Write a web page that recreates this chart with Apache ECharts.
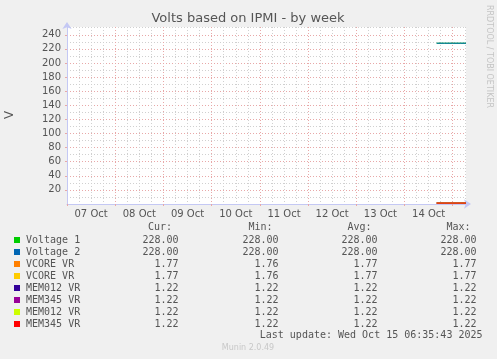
<!DOCTYPE html>
<html>
<head>
<meta charset="utf-8">
<script src="https://cdn.jsdelivr.net/npm/echarts@6/dist/echarts.min.js"></script>
<style>
html,body{margin:0;padding:0;background:#f0f0f0;}
#c{width:497px;height:359px;}
</style>
</head>
<body>
<div id="c"></div>
<script>
// ---- data ----
const dayLabels = ['07 Oct','08 Oct','09 Oct','10 Oct','11 Oct','12 Oct','13 Oct','14 Oct'];
const hoursSinceStart = [184, 188, 192, 196, 198.6]; // hours since 07 Oct 00:00
const xMax = 198.6;
const yMax = 251;
const yTicks = [20,40,60,80,100,120,140,160,180,200,220,240];
const seriesNames = ['Voltage 1','Voltage 2','VCORE VR','VCORE VR','MEM012 VR','MEM345 VR','MEM012 VR','MEM345 VR'];
const seriesColors = ['#00cc00','#0066b3','#ff8000','#ffcc00','#330099','#990099','#ccff00','#ff0000'];
const voltage1 = [228, 228, 228, 228, 228];
const voltage2 = [228, 228, 228, 228, 228];
const vcore1 = [1.77, 1.76, 1.77, 1.77, 1.77];
const vcore2 = [1.77, 1.76, 1.77, 1.77, 1.77];
const mem012a = [1.22, 1.22, 1.22, 1.22, 1.22];
const mem345a = [1.22, 1.22, 1.22, 1.22, 1.22];
const mem012b = [1.22, 1.22, 1.22, 1.22, 1.22];
const mem345b = [1.22, 1.22, 1.22, 1.22, 1.22];
const seriesValues = [voltage1, voltage2, vcore1, vcore2, mem012a, mem345a, mem012b, mem345b];
const curVals = ['228.00','228.00','1.77','1.77','1.22','1.22','1.22','1.22'];
const minVals = ['228.00','228.00','1.76','1.76','1.22','1.22','1.22','1.22'];
const avgVals = ['228.00','228.00','1.77','1.77','1.22','1.22','1.22','1.22'];
const maxVals = ['228.00','228.00','1.77','1.77','1.22','1.22','1.22','1.22'];
const lastUpdate = 'Last update: Wed Oct 15 06:35:43 2025';

// ---- chart ----
const chart = echarts.init(document.getElementById('c'), null, {renderer:'canvas'});
const MINOR = '#d0d0d0', MAJOR = '#e8a8a8', AXIS = '#c4c8f4', TXT = '#555555';
const mono = '"DejaVu Sans Mono", monospace';

const grid = {left: 67, top: 27, width: 399, height: 177, show: true, backgroundColor: '#ffffff', borderWidth: 0};

const xAxes = [
  { // minor grid every 6h
    type: 'value', min: 0, max: xMax, interval: 6, gridIndex: 0, position: 'bottom', offset: 0,
    axisLine: {show: false}, axisTick: {show: false}, axisLabel: {show: false},
    splitLine: {show: true, showMinLine: false, showMaxLine: false, lineStyle: {color: MINOR, type: [1, 2], width: 1}}
  },
  { // major grid every day
    type: 'value', min: 0, max: xMax, interval: 24, gridIndex: 0, position: 'bottom', offset: 0,
    axisLine: {show: true, lineStyle: {color: AXIS, width: 1}, symbol: ['none', 'arrow'], symbolSize: [7, 7], symbolOffset: [0, 5]},
    axisTick: {show: true, length: 2, lineStyle: {color: MAJOR}},
    axisLabel: {show: false},
    splitLine: {show: true, showMinLine: true, showMaxLine: false, lineStyle: {color: MAJOR, type: [1, 2], width: 1}}
  },
  { // day labels at noon
    type: 'value', min: 0, max: xMax, interval: 12, gridIndex: 0, position: 'bottom', offset: 0,
    axisLine: {show: false}, axisTick: {show: false}, splitLine: {show: false},
    axisLabel: {show: true, color: TXT, fontSize: 10, fontFamily: 'DejaVu Sans', margin: 5, showMaxLabel: false, showMinLabel: false,
      formatter: function (v) { const h = Math.round(v); if (h % 24 === 12) { return dayLabels[(h - 12) / 24] || ''; } return ''; }
    }
  }
];

const yAxes = [
  {
    type: 'value', min: 0, max: yMax, interval: 10, gridIndex: 0, position: 'left', offset: 0,
    axisLine: {show: false}, axisTick: {show: false}, axisLabel: {show: false},
    splitLine: {show: true, showMinLine: false, showMaxLine: false, lineStyle: {color: MINOR, type: [1, 2], width: 1}}
  },
  {
    type: 'value', min: 0, max: yMax, interval: 20, gridIndex: 0, position: 'left', offset: 0,
    axisLine: {show: true, lineStyle: {color: AXIS, width: 1}, symbol: ['none', 'arrow'], symbolSize: [7, 7], symbolOffset: [0, 5]},
    axisTick: {show: true, length: 2, lineStyle: {color: MAJOR}},
    axisLabel: {show: true, color: TXT, fontSize: 10, fontFamily: 'DejaVu Sans', margin: 6, showMaxLabel: false, showMinLabel: false,
      formatter: function (v) { return yTicks.indexOf(v) >= 0 ? String(v) : ''; }
    },
    splitLine: {show: true, showMinLine: false, showMaxLine: false, lineStyle: {color: MAJOR, type: [1, 2], width: 1}}
  }
];

const series = seriesNames.map(function (name, i) {
  return {
    name: name, type: 'line', xAxisIndex: 1, yAxisIndex: 1,
    data: hoursSinceStart.map(function (t, k) { return [t, seriesValues[i][k]]; }),
    showSymbol: false, symbol: 'none', silent: true, animation: false,
    lineStyle: {color: seriesColors[i], width: 1}, itemStyle: {color: seriesColors[i]}, z: 10 + i
  };
});

// legend table
const graphics = [];
const rowY0 = 240, rowH = 12;
graphics.push({type: 'text', style: {text: 'Volts based on IPMI - by week', x: 248, y: 19, textAlign: 'center', textVerticalAlign: 'middle', fill: TXT, font: '13px "DejaVu Sans"'}});
graphics.push({type: 'text', style: {text: 'V', x: 0, y: 0, textAlign: 'center', textVerticalAlign: 'middle', fill: TXT, font: '12px "DejaVu Sans"'}, x: 10, y: 115, rotation: Math.PI / 2});
graphics.push({type: 'text', style: {text: 'RRDTOOL / TOBI OETIKER', x: 0, y: 0, textAlign: 'left', textVerticalAlign: 'middle', fill: '#c4c4c4', font: '8px "DejaVu Sans"'}, x: 489, y: 5, rotation: -Math.PI / 2});
const headers = [['Cur:', 172], ['Min:', 272.5], ['Avg:', 371.5], ['Max:', 470.5]];
headers.forEach(function (h) {
  graphics.push({type: 'text', style: {text: h[0], x: h[1], y: 227.5, textAlign: 'right', textVerticalAlign: 'middle', fill: TXT, font: '10px ' + mono}});
});
const colEnds = [178.5, 278.5, 377.5, 476.5];
const cols = [curVals, minVals, avgVals, maxVals];
seriesNames.forEach(function (name, i) {
  const y = rowY0 + i * rowH;
  graphics.push({type: 'rect', shape: {x: 14, y: y - 3, width: 6, height: 6}, style: {fill: seriesColors[i]}});
  graphics.push({type: 'text', style: {text: name, x: 26, y: y, textAlign: 'left', textVerticalAlign: 'middle', fill: TXT, font: '10px ' + mono}});
  cols.forEach(function (c, j) {
    graphics.push({type: 'text', style: {text: c[i], x: colEnds[j], y: y, textAlign: 'right', textVerticalAlign: 'middle', fill: TXT, font: '10px ' + mono}});
  });
});
graphics.push({type: 'text', style: {text: lastUpdate, x: 482.5, y: 335.5, textAlign: 'right', textVerticalAlign: 'middle', fill: TXT, font: '10px ' + mono}});
graphics.push({type: 'text', style: {text: 'Munin 2.0.49', x: 248, y: 348, textAlign: 'center', textVerticalAlign: 'middle', fill: '#c8c8c8', font: '8px "DejaVu Sans"'}});

chart.setOption({
  backgroundColor: '#f0f0f0',
  animation: false,
  grid: grid,
  xAxis: xAxes,
  yAxis: yAxes,
  series: series,
  graphic: {elements: graphics}
});
</script>
</body>
</html>
